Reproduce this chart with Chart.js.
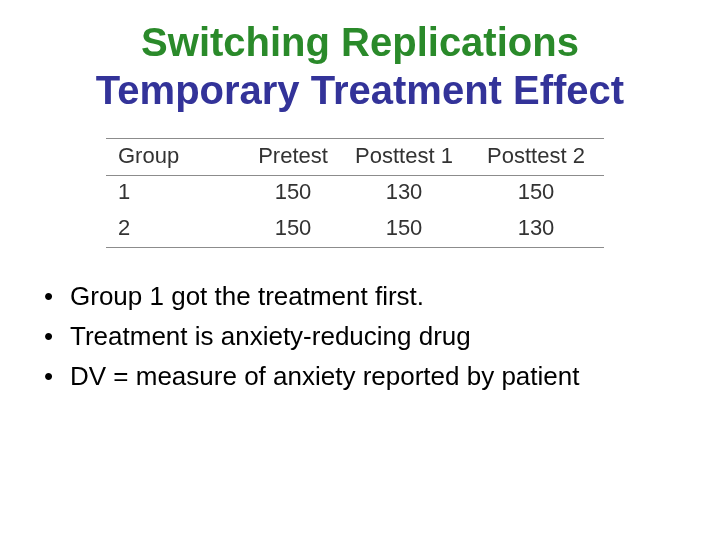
<!DOCTYPE html>
<html>
<head>
<meta charset="utf-8">
<script src="https://cdn.jsdelivr.net/npm/chart.js@4/dist/chart.umd.min.js"></script>
<style>
  html, body { margin: 0; padding: 0; background: #fff; }
  #wrap { width: 720px; height: 540px; }
</style>
</head>
<body>
<div id="wrap"><canvas id="myChart" width="720" height="540"></canvas></div>
<script>
const titleLines = ['Switching Replications', 'Temporary Treatment Effect'];
const titleColors = ['#2a8a2a', '#333399'];
const columns = ['Group', 'Pretest', 'Posttest 1', 'Posttest 2'];
const groups = ['1', '2'];
const pretest = [150, 150];
const posttest1 = [130, 150];
const posttest2 = [150, 130];
const bullets = [
  'Group 1 got the treatment first.',
  'Treatment is anxiety-reducing drug',
  'DV = measure of anxiety reported by patient'
];

// page units 0..720 / 0..540, mapped through the chart's x/y scales
const colX = [118, 293, 404, 536];
const rowY = [157, 193, 229];

const slidePlugin = {
  id: 'slide',
  afterDraw(chart) {
    const ctx = chart.ctx;
    const x = chart.scales.x, y = chart.scales.y;
    const px = v => x.getPixelForValue(v), py = v => y.getPixelForValue(v);
    const fam = 'Arial, "Liberation Sans", sans-serif';

    ctx.save();
    ctx.textBaseline = 'middle';

    // title
    ctx.font = 'bold 40px ' + fam;
    ctx.textAlign = 'center';
    titleLines.forEach((t, i) => {
      ctx.fillStyle = titleColors[i];
      ctx.fillText(t, px(360), py(45 + i * 48));
    });

    // table rules
    ctx.strokeStyle = '#8c8c8c';
    ctx.lineWidth = 1;
    [138, 175, 247].forEach(v => {
      ctx.beginPath();
      ctx.moveTo(px(106), py(v) + 0.5);
      ctx.lineTo(px(604), py(v) + 0.5);
      ctx.stroke();
    });

    // table cells
    ctx.fillStyle = '#333333';
    ctx.font = '22px ' + fam;
    const rows = [columns].concat(groups.map((g, i) => [g, pretest[i], posttest1[i], posttest2[i]]));
    rows.forEach((row, r) => {
      row.forEach((cell, c) => {
        ctx.textAlign = c === 0 ? 'left' : 'center';
        ctx.fillText(String(cell), px(colX[c]), py(rowY[r]));
      });
    });

    // bullets
    ctx.fillStyle = '#000000';
    ctx.font = '26px ' + fam;
    ctx.textAlign = 'left';
    bullets.forEach((b, i) => {
      const yy = py(298 + i * 40);
      ctx.fillText('\u2022', px(44), yy);
      ctx.fillText(b, px(70), yy);
    });
    ctx.restore();
  }
};

const ctx = document.getElementById('myChart').getContext('2d');
const myChart = new Chart(ctx, {
  type: 'scatter',
  data: { datasets: [{ data: [] }] },
  options: {
    responsive: false,
    animation: false,
    layout: { padding: 0 },
    plugins: {
      legend: { display: false },
      tooltip: { enabled: false },
      title: { display: false }
    },
    scales: {
      x: { type: 'linear', min: 0, max: 720, display: false },
      y: { type: 'linear', min: 0, max: 540, reverse: true, display: false }
    }
  },
  plugins: [slidePlugin]
});
</script>
</body>
</html>
